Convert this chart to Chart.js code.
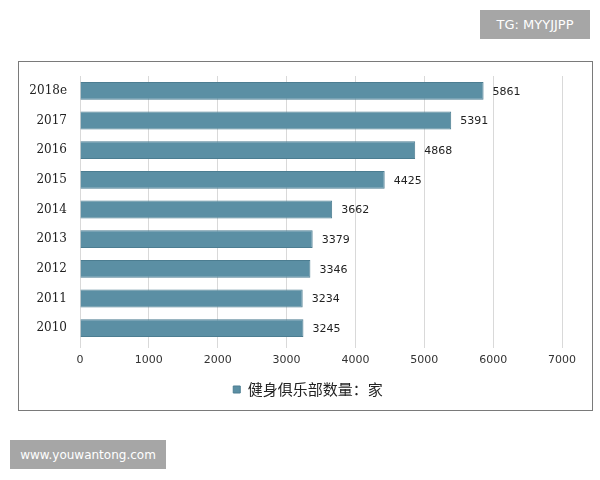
<!DOCTYPE html>
<html>
<head>
<meta charset="utf-8">
<script src="https://cdn.jsdelivr.net/npm/chart.js@4.4.1/dist/chart.umd.min.js"></script>
<style>
  body { margin: 0; background: #fff; overflow: hidden; }
  #wrap { position: relative; width: 600px; height: 480px; }
  #frame { position: absolute; left: 18px; top: 61px; width: 573px; height: 348px; border: 1.5px solid #7a7a7a; }
  canvas { position: absolute; left: 0; top: 0; }
  .mark { position: absolute; background: #a6a6a6; color: #fff; font-family: "DejaVu Sans", sans-serif; font-size: 12px; display: flex; align-items: center; justify-content: center; }
  #tg { left: 480px; top: 10px; width: 110px; height: 29px; font-size: 13px; }
  #www { left: 10px; top: 440px; width: 156px; height: 29px; }
</style>
</head>
<body>
<div id="wrap">
  <div id="frame"></div>
  <canvas id="clubChart" width="600" height="480"></canvas>
  <div class="mark" id="tg">TG: MYYJJPP</div>
  <div class="mark" id="www">www.youwantong.com</div>
</div>
<script>
// years, top to bottom as in the picture
const years = ['2018e', '2017', '2016', '2015', '2014', '2013', '2012', '2011', '2010'];
// number of fitness clubs
const clubCounts = [5861, 5391, 4868, 4425, 3662, 3379, 3346, 3234, 3245];
const seriesName = '健身俱乐部数量：家';

// Draw the value next to the end of each bar
const valueLabels = {
    id: 'valueLabels',
    beforeDraw(chart) {
        // legend sits a little right of the canvas centre in the original
        chart.legend.left += 27;
        chart.legend.right += 27;
    },
    afterDatasetsDraw(chart) {
        const ctx = chart.ctx;
        const meta = chart.getDatasetMeta(0);
        ctx.save();
        ctx.font = '11px "DejaVu Sans", sans-serif';
        ctx.fillStyle = '#222';
        ctx.textAlign = 'left';
        ctx.textBaseline = 'middle';
        meta.data.forEach((bar, i) => {
            ctx.fillText(clubCounts[i], bar.x + 9, bar.y + 1);
        });
        ctx.restore();
    }
};

const ctx = document.getElementById('clubChart').getContext('2d');
new Chart(ctx, {
    type: 'bar',
    data: {
        labels: years,
        datasets: [{
            label: seriesName,
            data: clubCounts,
            backgroundColor: '#5b8fa4',
            borderColor: '#4c7d91',
            borderWidth: 1,
            categoryPercentage: 1,
            barPercentage: 0.6
        }]
    },
    options: {
        indexAxis: 'y',
        responsive: false,
        animation: false,
        layout: { padding: { left: 0, right: 38, top: 76, bottom: 73 } },
        scales: {
            x: {
                min: 0,
                max: 7000,
                ticks: {
                    stepSize: 1000,
                    padding: 6,
                    color: '#333',
                    font: { family: 'DejaVu Sans', size: 11 },
                    callback: v => String(v)
                },
                grid: { color: '#d9d9d9', tickLength: 5, tickColor: '#d9d9d9' },
                border: { display: false },
                afterFit(scale) { scale.height = 29; }
            },
            y: {
                ticks: {
                    padding: 13,
                    color: '#222',
                    font: { family: 'DejaVu Serif', size: 12 }
                },
                grid: { display: false, drawTicks: false },
                border: { display: false },
                afterFit(scale) { scale.width = 80; }
            }
        },
        plugins: {
            legend: {
                position: 'bottom',
                labels: {
                    boxWidth: 7,
                    boxHeight: 7,
                    padding: 10,
                    color: '#222',
                    font: { family: 'Noto Sans CJK SC', size: 15 }
                }
            },
            tooltip: { enabled: false }
        }
    },
    plugins: [valueLabels]
});
</script>
</body>
</html>
